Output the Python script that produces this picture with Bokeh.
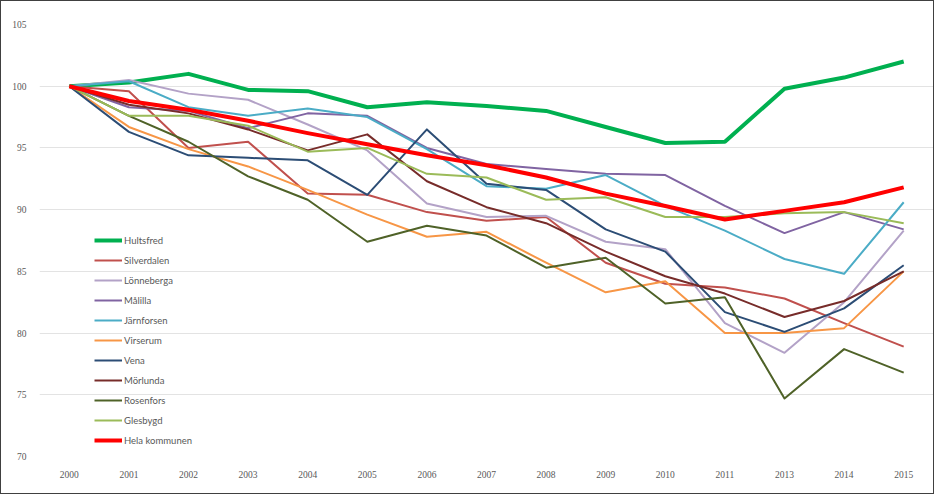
from bokeh.plotting import figure
from bokeh.models import FactorRange, Range1d, Legend, LegendItem, SingleIntervalTicker
from bokeh.embed import file_html
from bokeh.resources import INLINE

years = ["2000", "2001", "2002", "2003", "2004", "2005", "2006", "2007",
         "2008", "2009", "2010", "2011", "2013", "2014", "2015"]

hultsfred    = [100, 100.3, 101.0, 99.7, 99.6, 98.3, 98.7, 98.4, 98.0, 96.7, 95.4, 95.5, 99.8, 100.7, 102.0]
silverdalen  = [100, 99.6, 95.0, 95.5, 91.3, 91.2, 89.8, 89.1, 89.4, 85.7, 84.0, 83.7, 82.8, 80.8, 78.9]
lonneberga   = [100, 100.5, 99.4, 98.9, 96.9, 94.8, 90.5, 89.4, 89.5, 87.4, 86.8, 80.8, 78.4, 82.5, 88.3]
malilla      = [100, 98.3, 98.0, 96.6, 97.8, 97.6, 95.0, 93.7, 93.3, 92.9, 92.8, 90.3, 88.1, 89.8, 88.4]
jarnforsen   = [100, 100.4, 98.3, 97.6, 98.2, 97.5, 94.9, 91.9, 91.7, 92.8, 90.3, 88.3, 86.0, 84.8, 90.6]
virserum     = [100, 96.7, 94.9, 93.5, 91.6, 89.6, 87.8, 88.2, 85.7, 83.3, 84.2, 80.0, 80.0, 80.4, 85.0]
vena         = [100, 96.3, 94.4, 94.2, 94.0, 91.2, 96.5, 92.1, 91.6, 88.4, 86.6, 81.7, 80.1, 82.0, 85.5]
morlunda     = [100, 98.5, 97.8, 96.5, 94.8, 96.1, 92.3, 90.2, 88.9, 86.6, 84.6, 83.2, 81.3, 82.6, 85.0]
rosenfors    = [100, 97.6, 95.5, 92.7, 90.8, 87.4, 88.7, 87.9, 85.3, 86.1, 82.4, 82.9, 74.7, 78.7, 76.8]
glesbygd     = [100, 97.6, 97.6, 96.8, 94.7, 95.0, 92.9, 92.6, 90.8, 91.0, 89.4, 89.4, 89.7, 89.8, 88.9]
hela         = [100, 98.8, 98.1, 97.2, 96.2, 95.3, 94.4, 93.6, 92.6, 91.3, 90.3, 89.2, 89.9, 90.6, 91.8]

series = [
    ("Hultsfred", hultsfred, "#00b050", 4),
    ("Silverdalen", silverdalen, "#c0504d", 2),
    ("Lönneberga", lonneberga, "#b3a2c7", 2),
    ("Målilla", malilla, "#8064a2", 2),
    ("Järnforsen", jarnforsen, "#4bacc6", 2),
    ("Virserum", virserum, "#f79646", 2),
    ("Vena", vena, "#2c4d75", 2),
    ("Mörlunda", morlunda, "#772c2a", 2),
    ("Rosenfors", rosenfors, "#4f6228", 2),
    ("Glesbygd", glesbygd, "#9bbb59", 2),
    ("Hela kommunen", hela, "#ff0000", 4),
]

p = figure(width=934, height=494, x_range=FactorRange(factors=years),
           y_range=Range1d(70, 105), output_backend="svg", toolbar_location=None,
           min_border_left=38, min_border_right=2, min_border_top=23, min_border_bottom=39)
p.styles = {"border": "1px solid #404040", "box-sizing": "border-box"}
p.outline_line_color = None
p.background_fill_color = "white"
p.border_fill_color = "white"

p.xgrid.grid_line_color = None
p.ygrid.grid_line_color = "#e3e3e3"
p.ygrid.grid_line_width = 1

p.yaxis.ticker = SingleIntervalTicker(interval=5)
for ax in (p.xaxis[0], p.yaxis[0]):
    ax.axis_line_color = None
    ax.major_tick_line_color = None
    ax.minor_tick_line_color = None
    ax.major_label_text_font = "Liberation Sans Narrow"
    ax.major_label_text_font_size = "9.5px"
    ax.major_label_text_color = "#595959"
p.xaxis.major_label_standoff = 8
p.yaxis.major_label_standoff = 7

items = []
for name, vals, color, w in series:
    r = p.line(x=years, y=vals, line_color=color, line_width=w, line_join="round")
    items.append(LegendItem(label=name, renderers=[r]))

legend = Legend(items=items, location=(55, 6), orientation="vertical")
legend.background_fill_alpha = 0
legend.border_line_color = None
legend.padding = 0
legend.margin = 0
legend.spacing = 0
legend.glyph_width = 28
legend.glyph_height = 20
legend.label_height = 20
legend.label_standoff = 2
legend.label_text_font = "Lato"
legend.label_text_font_size = "9.5px"
legend.label_text_color = "#595959"
p.add_layout(legend, "center")

open("out.html", "w").write(file_html(p, INLINE))
